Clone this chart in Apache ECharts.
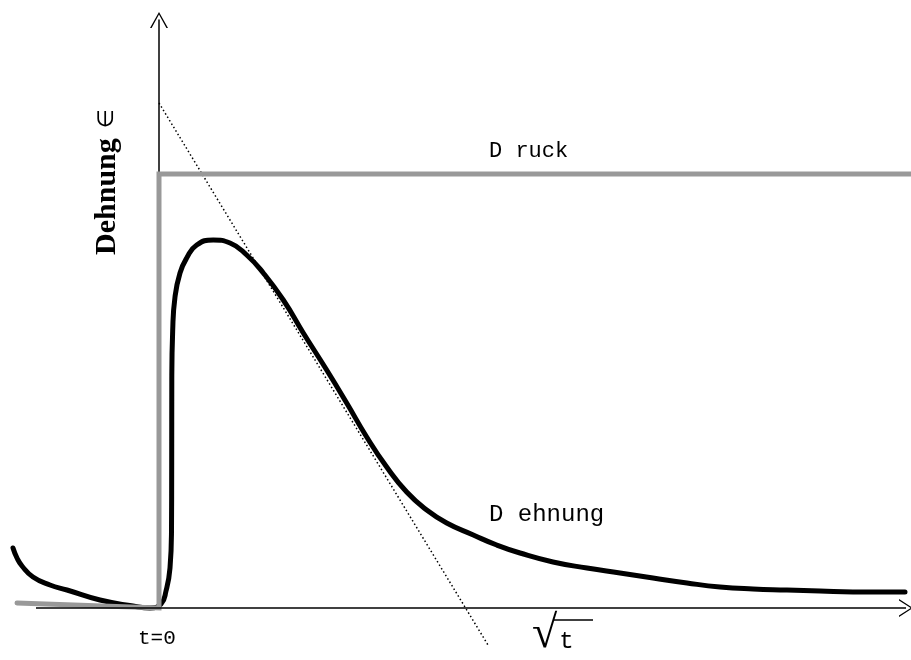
<!DOCTYPE html>
<html lang="de">
<head>
    <meta charset="UTF-8">
    <title>Dehnung / Druck</title>
    <script src="https://cdn.jsdelivr.net/npm/echarts@6/dist/echarts.min.js"></script>
    <style>
        html, body { margin: 0; padding: 0; background: #fff; }
        #chart { width: 911px; height: 660px; }
    </style>
</head>
<body>
    <div id="chart"></div>
    <script>
        // x = sqrt(t) (t=0 at x=0), y = Dehnung, arbitrary units
        const dehnungX = [-1.46, -1.42, -1.37, -1.26, -1.09, -0.92, -0.59, -0.26, -0.09, 0.02, 0.07, 0.11, 0.125, 0.127, 0.128, 0.137, 0.16, 0.21, 0.277, 0.377, 0.543, 0.71, 0.877, 1.043, 1.243, 1.443, 1.677, 1.877, 2.077, 2.277, 2.477, 2.677, 2.877, 3.143, 3.377, 3.61, 3.94, 4.28, 4.61, 4.94, 5.28, 5.61, 5.94, 6.28, 6.61, 6.94, 7.2, 7.46];
        const dehnungY = [0.60, 0.50, 0.42, 0.31, 0.23, 0.18, 0.08, 0.02, 0.00, 0.04, 0.17, 0.40, 0.78, 1.45, 2.28, 2.78, 3.11, 3.35, 3.50, 3.63, 3.68, 3.65, 3.53, 3.35, 3.08, 2.75, 2.38, 2.05, 1.71, 1.41, 1.16, 0.98, 0.85, 0.73, 0.63, 0.55, 0.46, 0.40, 0.35, 0.30, 0.25, 0.21, 0.19, 0.18, 0.17, 0.16, 0.16, 0.16];

        const druckX = [-1.42, 0.0, 0.0, 7.52];
        const druckY = [0.05, 0.0, 4.34, 4.34];

        const tangentX = [0.0, 3.29];
        const tangentY = [5.05, -0.37];

        // visible part of the sqrt(t) axis
        const axisStartX = -1.23;
        const axisEndX = 7.47;

        const labelDruck = 'D ruck';
        const labelDehnung = 'D ehnung';
        const labelT0 = 't=0';
        const yTitle = 'Dehnung';

        const zip = (xs, ys) => xs.map((x, i) => [x, ys[i]]);

        const arrowUp = 'path://M0,16 L9,0 L18,16 L16.4,16 L9,2.6 L1.6,16 Z';

        const chart = echarts.init(document.getElementById('chart'));
        chart.setOption({
            animation: false,
            backgroundColor: '#fff',
            grid: { left: 8, right: 0, top: 20, bottom: 52 },
            xAxis: {
                type: 'value',
                min: -1.51,
                max: 7.52,
                axisLine: { show: false },
                axisTick: { show: false },
                axisLabel: { show: false },
                splitLine: { show: false }
            },
            yAxis: {
                type: 'value',
                min: 0,
                max: 5.88,
                axisLine: {
                    onZero: true,
                    symbol: ['none', arrowUp],
                    symbolSize: [18, 16],
                    lineStyle: { color: '#000', width: 1.5 }
                },
                axisTick: { show: false },
                axisLabel: { show: false },
                splitLine: { show: false }
            },
            series: [
                {
                    name: 'Tangente',
                    type: 'line',
                    data: zip(tangentX, tangentY),
                    showSymbol: false,
                    clip: false,
                    z: 1,
                    lineStyle: { color: '#000', width: 1.5, type: [1.5, 2.5] },
                    markLine: {
                        silent: true,
                        symbol: ['none', arrowUp],
                        symbolSize: [18, 14],
                        label: { show: false },
                        lineStyle: { color: '#000', width: 1.5, type: 'solid' },
                        emphasis: { disabled: true },
                        data: [[{ coord: [axisStartX, 0] }, { coord: [axisEndX, 0] }]]
                    }
                },
                {
                    name: 'Dehnung',
                    type: 'line',
                    data: zip(dehnungX, dehnungY),
                    showSymbol: false,
                    smooth: 0.5,
                    clip: false,
                    z: 2,
                    lineStyle: { color: '#000', width: 5, cap: 'round', join: 'round' }
                },
                {
                    name: 'Druck',
                    type: 'line',
                    data: zip(druckX, druckY),
                    showSymbol: false,
                    clip: false,
                    z: 3,
                    lineStyle: { color: '#999', width: 5, cap: 'round', join: 'miter' }
                }
            ],
            graphic: [
                {
                    type: 'text',
                    left: 489, top: 140,
                    style: { text: labelDruck, font: '22px "Liberation Mono", monospace', fill: '#000' }
                },
                {
                    type: 'text',
                    left: 489, top: 503,
                    style: { text: labelDehnung, font: '24px "Liberation Mono", monospace', fill: '#000' }
                },
                {
                    type: 'text',
                    left: 138, top: 628,
                    style: { text: labelT0, font: '21px "Liberation Mono", monospace', fill: '#000' }
                },
                {
                    type: 'text',
                    left: 532, top: 612,
                    style: {
                        text: '{r|√}{t|t}',
                        rich: {
                            r: { font: '46px "Liberation Serif"', fill: '#000' },
                            t: { font: '24px "Liberation Mono", monospace', fill: '#000', padding: [14, 0, 0, 2] }
                        }
                    }
                },
                {
                    type: 'line',
                    shape: { x1: 553, y1: 620, x2: 593, y2: 620 },
                    style: { stroke: '#000', lineWidth: 1.5 }
                },
                {
                    type: 'text',
                    x: 107, y: 182,
                    rotation: Math.PI / 2,
                    style: {
                        text: '{b|' + yTitle + '}{s|∈}',
                        align: 'center',
                        verticalAlign: 'middle',
                        rich: {
                            b: { font: 'bold 30px "Liberation Serif", serif', fill: '#000' },
                            s: { font: '22px "DejaVu Sans"', fill: '#000', padding: [0, 0, 0, 10] }
                        }
                    }
                }
            ]
        });
    </script>
</body>
</html>
